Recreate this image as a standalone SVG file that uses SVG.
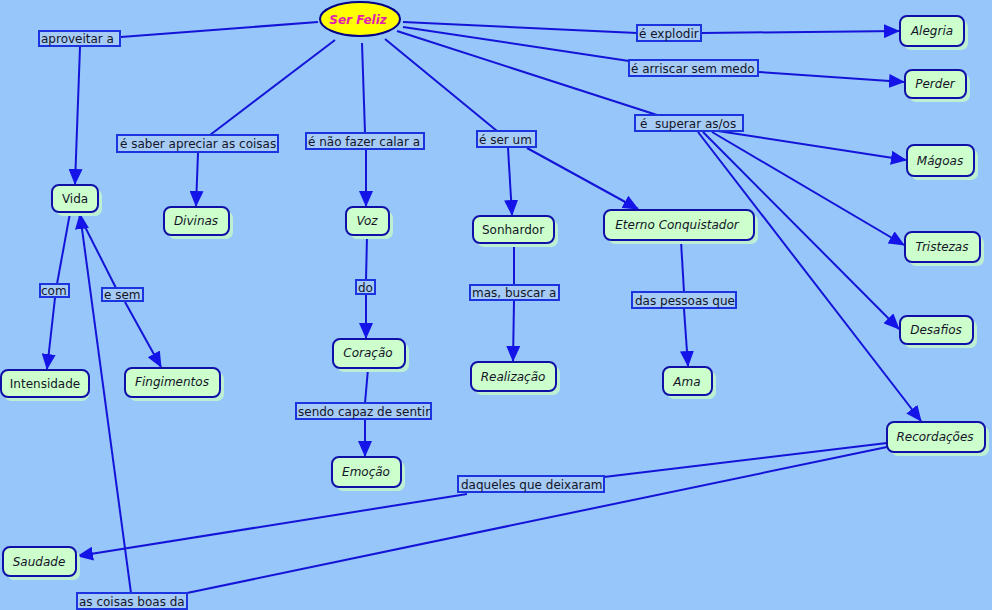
<svg xmlns="http://www.w3.org/2000/svg" width="992" height="610" viewBox="0 0 992 610">
<defs>
<style>
.bg{fill:#96C6FA}
.ln{stroke:#1414D8;stroke-width:2;fill:none}
.node rect.sh{fill:#BDEFD2}
.node rect.bx{fill:#CCFFCC;stroke:#1010A8;stroke-width:2}
.node text{font-family:"DejaVu Sans",Verdana,sans-serif;font-size:12px;fill:#141428;text-anchor:middle}
.it{font-style:italic}
.lbl rect{fill:#A6CCF6;stroke:#1C34E0;stroke-width:2}
.lbl text{font-family:"DejaVu Sans",Verdana,sans-serif;font-size:12px;fill:#141428}
</style>
<marker id="ar" markerUnits="userSpaceOnUse" markerWidth="16" markerHeight="14" refX="15" refY="7" orient="auto">
<path d="M0,0 L16,7 L0,14 z" fill="#1414E8"/>
</marker>
</defs>
<rect class="bg" x="0" y="0" width="992" height="610"/>

<g id="connectors">
<line class="ln" x1="318" y1="22" x2="121" y2="37"/>
<line class="ln" x1="80" y1="47" x2="75" y2="184" marker-end="url(#ar)"/>
<line class="ln" x1="335" y1="40" x2="210" y2="135"/>
<line class="ln" x1="198" y1="153" x2="196" y2="206" marker-end="url(#ar)"/>
<line class="ln" x1="362" y1="43" x2="365" y2="133"/>
<line class="ln" x1="366" y1="150" x2="366" y2="206" marker-end="url(#ar)"/>
<line class="ln" x1="385" y1="39" x2="497" y2="131"/>
<line class="ln" x1="508" y1="148" x2="512" y2="215" marker-end="url(#ar)"/>
<line class="ln" x1="527" y1="148" x2="638" y2="209" marker-end="url(#ar)"/>
<line class="ln" x1="397" y1="31" x2="657" y2="115"/>
<line class="ln" x1="403" y1="22" x2="637" y2="33"/>
<line class="ln" x1="702" y1="33" x2="899" y2="31" marker-end="url(#ar)"/>
<line class="ln" x1="403" y1="27" x2="629" y2="61"/>
<line class="ln" x1="759" y1="72" x2="904" y2="82" marker-end="url(#ar)"/>
<line class="ln" x1="718" y1="131" x2="906" y2="160" marker-end="url(#ar)"/>
<line class="ln" x1="712" y1="132" x2="904" y2="245" marker-end="url(#ar)"/>
<line class="ln" x1="703" y1="132" x2="899" y2="329" marker-end="url(#ar)"/>
<line class="ln" x1="698" y1="132" x2="921" y2="421" marker-end="url(#ar)"/>
<line class="ln" x1="70" y1="213" x2="57" y2="284"/>
<line class="ln" x1="55" y1="298" x2="47" y2="369" marker-end="url(#ar)"/>
<line class="ln" x1="78" y1="213" x2="116" y2="288"/>
<line class="ln" x1="125" y1="302" x2="161" y2="367" marker-end="url(#ar)"/>
<line class="ln" x1="131" y1="593" x2="80" y2="214" marker-end="url(#ar)"/>
<line class="ln" x1="367" y1="236" x2="366" y2="280"/>
<line class="ln" x1="366" y1="295" x2="366" y2="338" marker-end="url(#ar)"/>
<line class="ln" x1="368" y1="369" x2="365" y2="403"/>
<line class="ln" x1="365" y1="420" x2="365" y2="456" marker-end="url(#ar)"/>
<line class="ln" x1="514" y1="244" x2="514" y2="285"/>
<line class="ln" x1="514" y1="301" x2="513" y2="361" marker-end="url(#ar)"/>
<line class="ln" x1="681" y1="241" x2="684" y2="292"/>
<line class="ln" x1="684" y1="309" x2="688" y2="366" marker-end="url(#ar)"/>
<line class="ln" x1="887" y1="443" x2="604" y2="477"/>
<line class="ln" x1="467" y1="494" x2="78" y2="556" marker-end="url(#ar)"/>
<line class="ln" x1="887" y1="447" x2="187" y2="593"/>
</g>

<g id="ser-feliz">
<ellipse cx="360" cy="19" rx="40" ry="17" fill="#FFFF00" stroke="#000088" stroke-width="2"/>
<text x="358" y="24" font-family="DejaVu Sans,Verdana,sans-serif" font-size="12" font-weight="bold" font-style="italic" fill="#E020B0" text-anchor="middle">Ser Feliz</text>
</g>

<g id="alegria" class="node"><rect class="sh" x="904" y="20" width="64" height="30" rx="7"/><rect class="bx" x="900" y="16" width="64" height="30" rx="7"/><text class="it" x="932" y="35">Alegria</text></g>
<g id="perder" class="node"><rect class="sh" x="909" y="74" width="61" height="28" rx="7"/><rect class="bx" x="905" y="70" width="61" height="28" rx="7"/><text class="it" x="935" y="88">Perder</text></g>
<g id="magoas" class="node"><rect class="sh" x="911" y="149" width="67" height="31" rx="7"/><rect class="bx" x="907" y="145" width="67" height="31" rx="7"/><text class="it" x="940" y="165">Mágoas</text></g>
<g id="tristezas" class="node"><rect class="sh" x="909" y="236" width="75" height="30" rx="7"/><rect class="bx" x="905" y="232" width="75" height="30" rx="7"/><text class="it" x="942" y="251">Tristezas</text></g>
<g id="desafios" class="node"><rect class="sh" x="904" y="320" width="73" height="28" rx="7"/><rect class="bx" x="900" y="316" width="73" height="28" rx="7"/><text class="it" x="936" y="334">Desafios</text></g>
<g id="recordacoes" class="node"><rect class="sh" x="891" y="426" width="98" height="30" rx="7"/><rect class="bx" x="887" y="422" width="98" height="30" rx="7"/><text class="it" x="935" y="441">Recordações</text></g>
<g id="vida" class="node"><rect class="sh" x="56" y="189" width="46" height="27" rx="7"/><rect class="bx" x="52" y="185" width="46" height="27" rx="7"/><text x="75" y="203">Vida</text></g>
<g id="divinas" class="node"><rect class="sh" x="168" y="211" width="65" height="28" rx="7"/><rect class="bx" x="164" y="207" width="65" height="28" rx="7"/><text class="it" x="196" y="225">Divinas</text></g>
<g id="voz" class="node"><rect class="sh" x="350" y="211" width="43" height="28" rx="7"/><rect class="bx" x="346" y="207" width="43" height="28" rx="7"/><text class="it" x="367" y="225">Voz</text></g>
<g id="coracao" class="node"><rect class="sh" x="337" y="343" width="72" height="29" rx="7"/><rect class="bx" x="333" y="339" width="72" height="29" rx="7"/><text class="it" x="368" y="357">Coração</text></g>
<g id="emocao" class="node"><rect class="sh" x="336" y="461" width="69" height="30" rx="7"/><rect class="bx" x="332" y="457" width="69" height="30" rx="7"/><text class="it" x="366" y="476">Emoção</text></g>
<g id="sonhardor" class="node"><rect class="sh" x="477" y="220" width="81" height="27" rx="7"/><rect class="bx" x="473" y="216" width="81" height="27" rx="7"/><text x="513" y="234">Sonhardor</text></g>
<g id="eterno" class="node"><rect class="sh" x="608" y="214" width="150" height="30" rx="7"/><rect class="bx" x="604" y="210" width="150" height="30" rx="7"/><text class="it" x="677" y="229">Eterno Conquistador</text></g>
<g id="realizacao" class="node"><rect class="sh" x="475" y="366" width="85" height="29" rx="7"/><rect class="bx" x="471" y="362" width="85" height="29" rx="7"/><text class="it" x="513" y="381">Realização</text></g>
<g id="ama" class="node"><rect class="sh" x="667" y="371" width="49" height="28" rx="7"/><rect class="bx" x="663" y="367" width="49" height="28" rx="7"/><text class="it" x="687" y="386">Ama</text></g>
<g id="intensidade" class="node"><rect class="sh" x="4" y="374" width="85" height="27" rx="7"/><rect class="bx" x="1" y="370" width="88" height="27" rx="7"/><text x="45" y="388">Intensidade</text></g>
<g id="fingimentos" class="node"><rect class="sh" x="129" y="372" width="95" height="29" rx="7"/><rect class="bx" x="125" y="368" width="95" height="29" rx="7"/><text class="it" x="172" y="386">Fingimentos</text></g>
<g id="saudade" class="node"><rect class="sh" x="7" y="551" width="73" height="29" rx="7"/><rect class="bx" x="3" y="547" width="73" height="29" rx="7"/><text class="it" x="39" y="566">Saudade</text></g>

<g id="lbl-aproveitar" class="lbl"><rect x="39" y="31" width="81" height="15"/><text x="41" y="43">aproveitar a</text></g>
<g id="lbl-saber" class="lbl"><rect x="117" y="135" width="161" height="17"/><text x="120" y="148">é saber apreciar as coisas</text></g>
<g id="lbl-calar" class="lbl"><rect x="306" y="133" width="118" height="16"/><text x="308" y="146">é não fazer calar a</text></g>
<g id="lbl-serum" class="lbl"><rect x="477" y="131" width="59" height="16"/><text x="479" y="144">é ser um</text></g>
<g id="lbl-superar" class="lbl"><rect x="635" y="115" width="108" height="16"/><text x="640" y="128" xml:space="preserve">é  superar as/os</text></g>
<g id="lbl-explodir" class="lbl"><rect x="637" y="25" width="64" height="16"/><text x="639" y="38">é explodir</text></g>
<g id="lbl-arriscar" class="lbl"><rect x="629" y="60" width="129" height="16"/><text x="631" y="73">é arriscar sem medo</text></g>
<g id="lbl-do" class="lbl"><rect x="356" y="280" width="19" height="14"/><text x="358" y="292">do</text></g>
<g id="lbl-buscar" class="lbl"><rect x="470" y="285" width="89" height="15"/><text x="472" y="297">mas, buscar a</text></g>
<g id="lbl-pessoas" class="lbl"><rect x="632" y="292" width="104" height="16"/><text x="635" y="305">das pessoas que</text></g>
<g id="lbl-com" class="lbl"><rect x="40" y="284" width="29" height="13"/><text x="41" y="295">com</text></g>
<g id="lbl-esem" class="lbl"><rect x="102" y="288" width="41" height="13"/><text x="104" y="299">e sem</text></g>
<g id="lbl-sentir" class="lbl"><rect x="296" y="403" width="135" height="16"/><text x="298" y="416">sendo capaz de sentir</text></g>
<g id="lbl-daqueles" class="lbl"><rect x="458" y="476" width="146" height="16"/><text x="461" y="489">daqueles que deixaram</text></g>
<g id="lbl-coisasboas" class="lbl"><rect x="77" y="593" width="110" height="16"/><text x="79" y="606">as coisas boas da</text></g>
</svg>
